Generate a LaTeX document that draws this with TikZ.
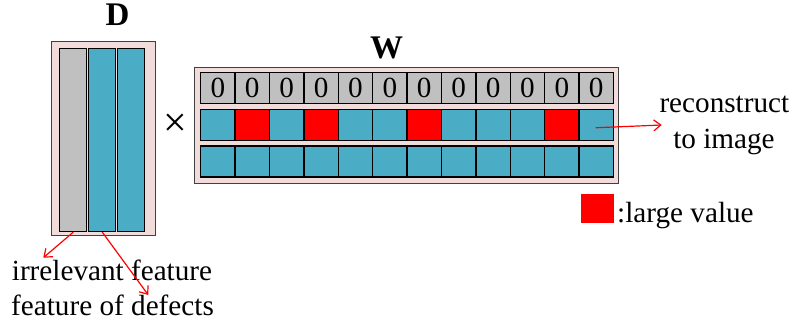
\documentclass[tikz,border=0pt]{standalone}
\usepackage{fontspec}
\setmainfont{Liberation Serif}
\usetikzlibrary{arrows.meta}
\definecolor{panelpink}{HTML}{F2DCDB}
\definecolor{cellblue}{HTML}{4BACC6}
\definecolor{cellgray}{HTML}{C0C0C0}
\definecolor{framegray}{HTML}{404040}
\tikzset{
  every node/.style={font=\fontsize{29.2}{30}\selectfont, inner sep=0pt},
  title/.style={anchor=base, font=\fontsize{33}{33}\selectfont\bfseries},
  panel/.style={draw=framegray, line width=0.9pt, fill=panelpink},
  cell/.style={draw=black, line width=1.3pt, minimum width=34.4pt, minimum height=31pt, anchor=north west},
  colbar/.style={draw=black, line width=1.1pt, fill=#1, minimum width=26.4pt, minimum height=182.7pt, anchor=north west},
  redarrow/.style={draw=red, line width=1.2pt, -{Straight Barb[length=7pt,width=11pt]}},
  label/.style={anchor=base west},
}
\begin{document}
\begin{tikzpicture}[x=1pt,y=-1pt]
  \useasboundingbox (0,0) rectangle (793,326);

  % matrix D: three column atoms
  \node[panel, minimum width=104pt, minimum height=194pt, anchor=north west] (Dbox) at (51,41) {};
  \node[colbar=cellgray] (d1) at (59.3,48.3) {};
  \node[colbar=cellblue] (d2) at (88.3,48.3) {};
  \node[colbar=cellblue] (d3) at (117.3,48.3) {};
  \node[title] (Dlab) at (117.5,26) {D};

  \node[font=\fontsize{42}{42}\selectfont] (times) at (175,125) {×};

  % matrix W: coefficient rows
  \node[panel, minimum width=424.3pt, minimum height=116pt, anchor=north west] (Wbox) at (194,66.7) {};
  \node[title] (Wlab) at (386.7,58.3) {W};
  \foreach \i in {0,...,11} {
    \node[cell, fill=cellgray] (a\i) at ({200+34.4*\i},71.7) {0};
    \node[cell, fill=cellblue] (c\i) at ({200+34.4*\i},145.5) {};
  }
  \foreach \i/\col in {0/cellblue,1/red,2/cellblue,3/red,4/cellblue,5/cellblue,
                       6/red,7/cellblue,8/cellblue,9/cellblue,10/red,11/cellblue} {
    \node[cell, fill=\col] (b\i) at ({200+34.4*\i},108.6) {};
  }

  % labels
  \node[label] (rec1) at (659.3,112.7) {reconstruct};
  \node[anchor=base] (rec2) at (724,148.3) {to image};
  \coordinate (recpt) at (661.7,125);
  \draw[redarrow] ([xshift=-0.5pt,yshift=-3pt]b11.center) -- (recpt);

  \node[fill=red, minimum width=33.3pt, minimum height=28.7pt, anchor=north west] (legend) at (580.7,194) {};
  \node[label] (legtxt) at (617,222.3) {:large value};

  \node[label] (irr) at (11.7,280) {irrelevant feature};
  \node[label] (def) at (11,315.7) {feature of defects};
  \coordinate (irrpt) at (43.3,257.7);
  \coordinate (defpt) at (148.3,295);
  \draw[redarrow] ([xshift=0.3pt]d1.south) -- (irrpt);
  \draw[redarrow] ([xshift=0.2pt]d2.south) -- (defpt);
\end{tikzpicture}
\end{document}
